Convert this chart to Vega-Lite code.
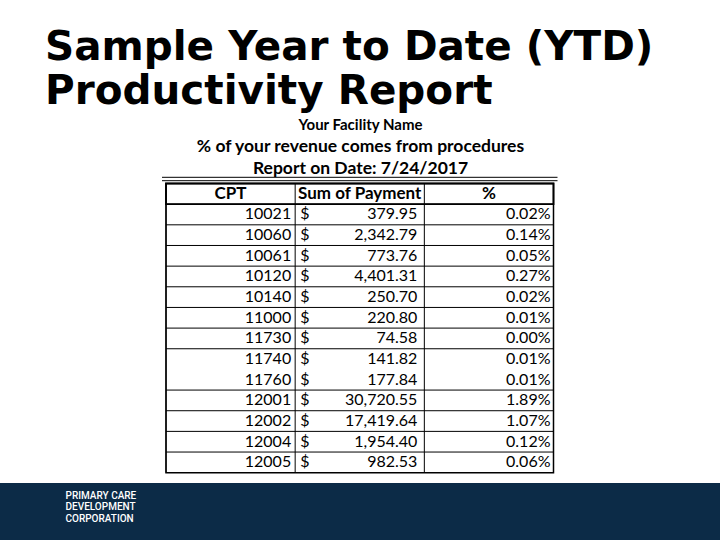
{
  "$schema": "https://vega.github.io/schema/vega-lite/v6.json",
  "width": 720,
  "height": 430,
  "autosize": {"type": "none"},
  "padding": {"top": 110, "left": 0, "right": 0, "bottom": 0},
  "background": "white",
  "view": {
    "stroke": null,
    "fill": {
      "gradient": "linear", "x1": 0, "y1": 0, "x2": 0, "y2": 1,
      "stops": [
        {"offset": 0, "color": "white"},
        {"offset": 0.8663, "color": "white"},
        {"offset": 0.8663, "color": "#0c2b47"},
        {"offset": 1, "color": "#0c2b47"}
      ]
    }
  },
  "config": {"text": {"font": "Lato", "fontSize": 16, "color": "black", "baseline": "middle"}},
  "title": {
    "text": ["Sample Year to Date (YTD)", "Productivity Report"],
    "anchor": "start",
    "frame": "group",
    "dx": 45,
    "offset": -2,
    "font": "DejaVu Sans",
    "fontSize": 40.5,
    "fontWeight": "bold",
    "lineHeight": 44,
    "color": "black"
  },
  "datasets": {
    "rows": [
      {"CPT": "10021", "Payment": 379.95, "Pct": 0.0002},
      {"CPT": "10060", "Payment": 2342.79, "Pct": 0.0014},
      {"CPT": "10061", "Payment": 773.76, "Pct": 0.0005},
      {"CPT": "10120", "Payment": 4401.31, "Pct": 0.0027},
      {"CPT": "10140", "Payment": 250.70, "Pct": 0.0002},
      {"CPT": "11000", "Payment": 220.80, "Pct": 0.0001},
      {"CPT": "11730", "Payment": 74.58, "Pct": 0.0000},
      {"CPT": "11740", "Payment": 141.82, "Pct": 0.0001},
      {"CPT": "11760", "Payment": 177.84, "Pct": 0.0001},
      {"CPT": "12001", "Payment": 30720.55, "Pct": 0.0189},
      {"CPT": "12002", "Payment": 17419.64, "Pct": 0.0107},
      {"CPT": "12004", "Payment": 1954.40, "Pct": 0.0012},
      {"CPT": "12005", "Payment": 982.53, "Pct": 0.0006}
    ],
    "cols": [
      {"Column": "CPT"},
      {"Column": "Sum of Payment"},
      {"Column": "%"}
    ],
    "frame": [{"part": "table"}]
  },
  "resolve": {"axis": {"x": "independent"}},
  "layer": [
    {
      "data": {"name": "rows"},
      "transform": [{"filter": "datum.CPT !== '11760'"}],
      "mark": {"type": "rule", "color": "black", "strokeWidth": 1},
      "encoding": {
        "y": {
          "field": "CPT", "type": "nominal", "bandPosition": 0,
          "scale": {
            "type": "band",
            "domain": ["header", "10021", "10060", "10061", "10120", "10140", "11000", "11730", "11740", "11760", "12001", "12002", "12004", "12005"],
            "range": [73.5, 362.7],
            "paddingInner": 0, "paddingOuter": 0
          },
          "axis": {
            "labels": false, "ticks": false, "domain": false, "grid": false,
            "title": "Your Facility Name",
            "titleAngle": 0, "titleX": 360, "titleY": 14,
            "titleAlign": "center", "titleBaseline": "middle",
            "titleFont": "Lato", "titleFontSize": 15, "titleFontWeight": "bold", "titleColor": "black"
          }
        },
        "x": {
          "datum": "CPT", "type": "nominal", "bandPosition": 0,
          "scale": {"type": "band", "domain": ["CPT", "Sum of Payment", "%"], "range": [166, 553.5], "paddingInner": 0, "paddingOuter": 0},
          "axis": {
            "orient": "top",
            "labels": false, "ticks": false, "domain": false, "grid": false,
            "title": ["% of your revenue comes from procedures", "Report on Date: 7/24/2017"],
            "titleX": 360, "titleY": 27,
            "titleAlign": "center", "titleBaseline": "top",
            "titleFont": "Lato", "titleFontSize": 17.5, "titleFontWeight": "bold", "titleColor": "black",
            "titleLineHeight": 22
          }
        },
        "x2": {"datum": "%", "bandPosition": 1}
      }
    },
    {
      "data": {"name": "cols"},
      "mark": {"type": "rule", "color": "black", "strokeWidth": 1},
      "encoding": {
        "x": {
          "field": "Column", "type": "nominal", "bandPosition": 0,
          "axis": {
            "orient": "bottom",
            "labels": false, "ticks": false, "grid": false, "domain": false,
            "title": ["PRIMARY CARE", "DEVELOPMENT", "CORPORATION"],
            "titleX": 65, "titleY": -50,
            "titleAlign": "left", "titleBaseline": "top",
            "titleFont": "Roboto", "titleFontSize": 10, "titleFontWeight": 500, "titleColor": "white",
            "titleLineHeight": 11.5
          }
        },
        "y": {"datum": "header", "type": "nominal", "bandPosition": 0},
        "y2": {"datum": "12005", "bandPosition": 1}
      }
    },
    {
      "data": {"name": "frame"},
      "mark": {"type": "rect", "fill": null, "stroke": "black", "strokeWidth": 1.5},
      "encoding": {
        "x": {"datum": "CPT", "type": "nominal", "bandPosition": 0, "axis": null},
        "x2": {"datum": "%", "bandPosition": 1},
        "y": {"datum": "header", "type": "nominal", "bandPosition": 0},
        "y2": {"datum": "12005", "bandPosition": 1}
      }
    },
    {
      "data": {"name": "frame"},
      "mark": {"type": "rect", "fill": null, "stroke": "black", "strokeWidth": 1.8},
      "encoding": {
        "x": {"datum": "CPT", "type": "nominal", "bandPosition": 0, "axis": null},
        "x2": {"datum": "%", "bandPosition": 1},
        "y": {"datum": "header", "type": "nominal", "bandPosition": 0},
        "y2": {"datum": "header", "bandPosition": 1}
      }
    },
    {
      "data": {"name": "frame"},
      "mark": {"type": "rule", "color": "black", "strokeWidth": 1, "yOffset": -6.2, "xOffset": -4, "x2Offset": 4},
      "encoding": {
        "x": {"datum": "CPT", "type": "nominal", "bandPosition": 0, "axis": null},
        "x2": {"datum": "%", "bandPosition": 1},
        "y": {"datum": "header", "type": "nominal", "bandPosition": 0}
      }
    },
    {
      "data": {"name": "frame"},
      "mark": {"type": "rule", "color": "black", "strokeWidth": 1, "yOffset": -2.8, "xOffset": -4, "x2Offset": 4},
      "encoding": {
        "x": {"datum": "CPT", "type": "nominal", "bandPosition": 0, "axis": null},
        "x2": {"datum": "%", "bandPosition": 1},
        "y": {"datum": "header", "type": "nominal", "bandPosition": 0}
      }
    },
    {
      "data": {"name": "cols"},
      "mark": {"type": "text", "fontWeight": "bold", "fontSize": 17, "align": "center"},
      "encoding": {
        "x": {"field": "Column", "type": "nominal", "axis": null},
        "y": {"datum": "header", "type": "nominal"},
        "text": {"field": "Column"}
      }
    },
    {
      "data": {"name": "rows"},
      "mark": {"type": "text", "align": "right", "dx": -4},
      "encoding": {
        "x": {"datum": "CPT", "type": "nominal", "bandPosition": 1, "axis": null},
        "y": {"field": "CPT", "type": "nominal"},
        "text": {"field": "CPT"}
      }
    },
    {
      "data": {"name": "rows"},
      "mark": {"type": "text", "align": "left", "dx": 5},
      "encoding": {
        "x": {"datum": "Sum of Payment", "type": "nominal", "bandPosition": 0, "axis": null},
        "y": {"field": "CPT", "type": "nominal"},
        "text": {"value": "$"}
      }
    },
    {
      "data": {"name": "rows"},
      "mark": {"type": "text", "align": "right", "dx": -7},
      "encoding": {
        "x": {"datum": "Sum of Payment", "type": "nominal", "bandPosition": 1, "axis": null},
        "y": {"field": "CPT", "type": "nominal"},
        "text": {"field": "Payment", "type": "quantitative", "format": ",.2f"}
      }
    },
    {
      "data": {"name": "rows"},
      "mark": {"type": "text", "align": "right", "dx": -3},
      "encoding": {
        "x": {"datum": "%", "type": "nominal", "bandPosition": 1, "axis": null},
        "y": {"field": "CPT", "type": "nominal"},
        "text": {"field": "Pct", "type": "quantitative", "format": ".2%"}
      }
    }
  ]
}
